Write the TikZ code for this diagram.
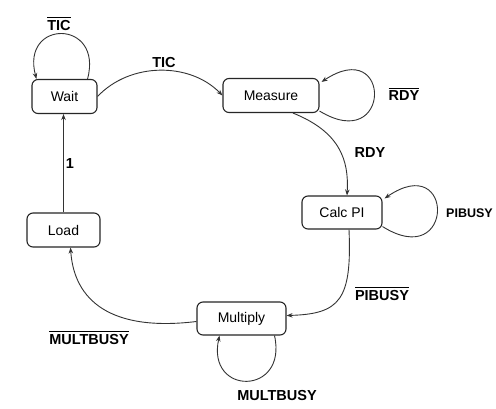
\documentclass[tikz,border=0pt]{standalone}
\usepackage{fontspec}
\setmainfont{Liberation Sans}
\usetikzlibrary{arrows.meta,calc}
\tikzset{
  state/.style={draw=black!85, line width=1.1pt, rounded corners=6pt, minimum height=34pt, inner sep=2pt, font=\fontsize{14}{16}\selectfont},
  arr/.style={draw=black!80, line width=0.9pt, -{Stealth[length=6pt,width=4.5pt]}},
  lbl/.style={font=\fontsize{14.5}{16}\selectfont\bfseries, inner sep=1pt},
}
\newcommand{\ovl}[1]{\vbox{\hrule height 1pt\kern2pt\hbox{#1}}}
\begin{document}
\begin{tikzpicture}[x=1pt,y=-1pt]
\useasboundingbox[fill=white] (0,0) rectangle (496,408);
\node[state, minimum width=65pt] (w) at (64.5,96.5) {Wait};
\node[state, minimum width=96pt] (m) at (271,95.5) {Measure};
\node[state, minimum width=80pt, minimum height=33pt] (c) at (342,212.5) {Calc PI};
\node[state, minimum width=73pt] (l) at (63.5,230) {Load};
\node[state, minimum width=89pt, minimum height=33pt] (mu) at (241.5,318.5) {Multiply};

% Wait self loop
\draw[arr] ($(w.north east)+(-10,0)$) .. controls +(16,-60) and +(-16,-60) .. ($(w.north west)+(5,0)$);
\node[lbl] (tic0) at (59,24) {\ovl{TIC}};
% Wait -> Measure
\draw[arr] (w.east) .. controls (130,62) and (190,62) .. (m.west);
\node[lbl] (tic1) at (164,63) {TIC};
% Measure self loop
\draw[arr] ($(m.south east)+(0,-2)$) .. controls (392,155) and (392,35) .. ($(m.north east)+(2,4)$);
\node[lbl] (rdy0) at (404,94) {\ovl{RDY}};
% Measure -> Calc PI
\draw[arr] ($(m.south)+(22,0)$) .. controls (340,132) and (349,160) .. ($(c.north)+(5,0)$);
\node[lbl] (rdy1) at (370,153) {RDY};
% Calc PI self loop
\draw[arr] ($(c.south east)+(0,-3)$) .. controls (455,272) and (455,150) .. ($(c.north east)+(2,3)$);
\node[lbl, anchor=west, font=\fontsize{12.5}{14}\selectfont\bfseries] (pib0) at (445,213) {PIBUSY};
% Calc PI -> Multiply
\draw[arr] ($(c.south)+(7,0)$) .. controls (352,300) and (340,314) .. ($(mu.east)+(0,-3)$);
\node[lbl] (pib1) at (382,294) {\ovl{PIBUSY}};
% Multiply self loop
\draw[arr] ($(mu.south)+(33,0)$) .. controls (288,396) and (206,396) .. ($(mu.south)+(-22,0)$);
\node[lbl] (mb0) at (277,396) {MULTBUSY};
% Multiply -> Load
\draw[arr] ($(mu.west)+(0,3)$) .. controls (110,332) and (74,300) .. ($(l.south)+(7,0)$);
\node[lbl] (mb1) at (89,338) {\ovl{MULTBUSY}};
% Load -> Wait
\draw[arr] (l.north) -- (l.north |- w.south);
\node[lbl] (one) at (70,164) {1};
\end{tikzpicture}
\end{document}
